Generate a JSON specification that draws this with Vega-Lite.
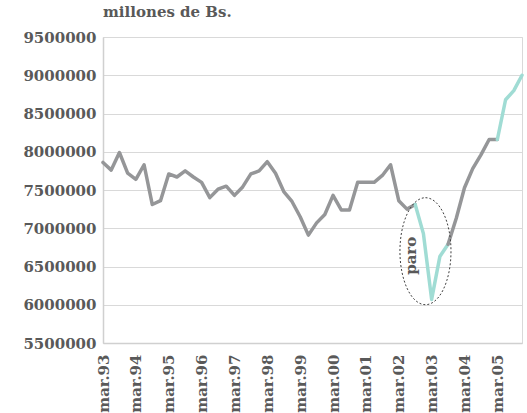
{
  "$schema": "https://vega.github.io/schema/vega-lite/v6.json",
  "width": 419,
  "height": 306,
  "autosize": {"type": "none"},
  "padding": {"left": 103, "top": 37, "right": 5, "bottom": 70},
  "background": "white",
  "title": {"text": "millones de Bs.", "anchor": "start", "frame": "group", "offset": 10, "font": "DejaVu Serif", "fontSize": 15, "fontWeight": "bold", "color": "#595959"},
  "datasets": {
    "serie": [
      {"t": 0, "periodo": "mar.93", "valor": 7860000, "tramo": "A", "tipo": "normal"},
      {"t": 1, "periodo": "jun.93", "valor": 7760000, "tramo": "A", "tipo": "normal"},
      {"t": 2, "periodo": "sep.93", "valor": 7990000, "tramo": "A", "tipo": "normal"},
      {"t": 3, "periodo": "dic.93", "valor": 7720000, "tramo": "A", "tipo": "normal"},
      {"t": 4, "periodo": "mar.94", "valor": 7640000, "tramo": "A", "tipo": "normal"},
      {"t": 5, "periodo": "jun.94", "valor": 7830000, "tramo": "A", "tipo": "normal"},
      {"t": 6, "periodo": "sep.94", "valor": 7310000, "tramo": "A", "tipo": "normal"},
      {"t": 7, "periodo": "dic.94", "valor": 7360000, "tramo": "A", "tipo": "normal"},
      {"t": 8, "periodo": "mar.95", "valor": 7710000, "tramo": "A", "tipo": "normal"},
      {"t": 9, "periodo": "jun.95", "valor": 7670000, "tramo": "A", "tipo": "normal"},
      {"t": 10, "periodo": "sep.95", "valor": 7750000, "tramo": "A", "tipo": "normal"},
      {"t": 11, "periodo": "dic.95", "valor": 7670000, "tramo": "A", "tipo": "normal"},
      {"t": 12, "periodo": "mar.96", "valor": 7600000, "tramo": "A", "tipo": "normal"},
      {"t": 13, "periodo": "jun.96", "valor": 7400000, "tramo": "A", "tipo": "normal"},
      {"t": 14, "periodo": "sep.96", "valor": 7510000, "tramo": "A", "tipo": "normal"},
      {"t": 15, "periodo": "dic.96", "valor": 7550000, "tramo": "A", "tipo": "normal"},
      {"t": 16, "periodo": "mar.97", "valor": 7430000, "tramo": "A", "tipo": "normal"},
      {"t": 17, "periodo": "jun.97", "valor": 7540000, "tramo": "A", "tipo": "normal"},
      {"t": 18, "periodo": "sep.97", "valor": 7710000, "tramo": "A", "tipo": "normal"},
      {"t": 19, "periodo": "dic.97", "valor": 7750000, "tramo": "A", "tipo": "normal"},
      {"t": 20, "periodo": "mar.98", "valor": 7870000, "tramo": "A", "tipo": "normal"},
      {"t": 21, "periodo": "jun.98", "valor": 7720000, "tramo": "A", "tipo": "normal"},
      {"t": 22, "periodo": "sep.98", "valor": 7480000, "tramo": "A", "tipo": "normal"},
      {"t": 23, "periodo": "dic.98", "valor": 7350000, "tramo": "A", "tipo": "normal"},
      {"t": 24, "periodo": "mar.99", "valor": 7150000, "tramo": "A", "tipo": "normal"},
      {"t": 25, "periodo": "jun.99", "valor": 6910000, "tramo": "A", "tipo": "normal"},
      {"t": 26, "periodo": "sep.99", "valor": 7070000, "tramo": "A", "tipo": "normal"},
      {"t": 27, "periodo": "dic.99", "valor": 7180000, "tramo": "A", "tipo": "normal"},
      {"t": 28, "periodo": "mar.00", "valor": 7430000, "tramo": "A", "tipo": "normal"},
      {"t": 29, "periodo": "jun.00", "valor": 7240000, "tramo": "A", "tipo": "normal"},
      {"t": 30, "periodo": "sep.00", "valor": 7240000, "tramo": "A", "tipo": "normal"},
      {"t": 31, "periodo": "dic.00", "valor": 7600000, "tramo": "A", "tipo": "normal"},
      {"t": 32, "periodo": "mar.01", "valor": 7600000, "tramo": "A", "tipo": "normal"},
      {"t": 33, "periodo": "jun.01", "valor": 7600000, "tramo": "A", "tipo": "normal"},
      {"t": 34, "periodo": "sep.01", "valor": 7690000, "tramo": "A", "tipo": "normal"},
      {"t": 35, "periodo": "dic.01", "valor": 7830000, "tramo": "A", "tipo": "normal"},
      {"t": 36, "periodo": "mar.02", "valor": 7360000, "tramo": "A", "tipo": "normal"},
      {"t": 37, "periodo": "jun.02", "valor": 7250000, "tramo": "A", "tipo": "normal"},
      {"t": 38, "periodo": "sep.02", "valor": 7310000, "tramo": "A", "tipo": "normal"},
      {"t": 38, "periodo": "sep.02", "valor": 7310000, "tramo": "B", "tipo": "destacado"},
      {"t": 39, "periodo": "dic.02", "valor": 6930000, "tramo": "B", "tipo": "destacado"},
      {"t": 40, "periodo": "mar.03", "valor": 6070000, "tramo": "B", "tipo": "destacado"},
      {"t": 41, "periodo": "jun.03", "valor": 6630000, "tramo": "B", "tipo": "destacado"},
      {"t": 42, "periodo": "sep.03", "valor": 6790000, "tramo": "B", "tipo": "destacado"},
      {"t": 42, "periodo": "sep.03", "valor": 6790000, "tramo": "C", "tipo": "normal"},
      {"t": 43, "periodo": "dic.03", "valor": 7130000, "tramo": "C", "tipo": "normal"},
      {"t": 44, "periodo": "mar.04", "valor": 7530000, "tramo": "C", "tipo": "normal"},
      {"t": 45, "periodo": "jun.04", "valor": 7780000, "tramo": "C", "tipo": "normal"},
      {"t": 46, "periodo": "sep.04", "valor": 7960000, "tramo": "C", "tipo": "normal"},
      {"t": 47, "periodo": "dic.04", "valor": 8160000, "tramo": "C", "tipo": "normal"},
      {"t": 48, "periodo": "mar.05", "valor": 8160000, "tramo": "C", "tipo": "normal"},
      {"t": 48, "periodo": "mar.05", "valor": 8160000, "tramo": "D", "tipo": "destacado"},
      {"t": 49, "periodo": "jun.05", "valor": 8680000, "tramo": "D", "tipo": "destacado"},
      {"t": 50, "periodo": "sep.05", "valor": 8800000, "tramo": "D", "tipo": "destacado"},
      {"t": 51, "periodo": "dic.05", "valor": 9000000, "tramo": "D", "tipo": "destacado"}
    ],
    "elipse": [
      {"t": 39.25, "valor": 6700000}
    ],
    "etiqueta": [
      {"t": 37.5, "valor": 6640000, "texto": "paro"}
    ]
  },
  "encoding": {
    "x": {"field": "t", "type": "quantitative", "scale": {"domain": [0, 51], "nice": false, "zero": false},
          "axis": {"values": [0, 4, 8, 12, 16, 20, 24, 28, 32, 36, 40, 44, 48],
                   "labelExpr": "datum.value/4 + 93 < 100 ? 'mar.' + (datum.value/4 + 93) : 'mar.0' + (datum.value/4 - 7)",
                   "labelOverlap": false, "labelAngle": 270, "labelPadding": 11, "labelFontSize": 15, "labelBound": false, "grid": false,
                   "title": null}},
    "y": {"field": "valor", "type": "quantitative", "scale": {"domain": [5500000, 9500000], "nice": false, "zero": false},
          "axis": {"values": [5500000, 6000000, 6500000, 7000000, 7500000, 8000000, 8500000, 9000000, 9500000], "format": "d",
                   "labelOverlap": false, "grid": true, "labelPadding": 7, "title": null}}
  },
  "layer": [
    {
      "data": {"name": "serie"},
      "mark": {"type": "line", "strokeWidth": 3.5, "strokeJoin": "round", "strokeCap": "round"},
      "encoding": {
        "detail": {"field": "tramo"},
        "color": {"field": "tipo", "type": "nominal", "scale": {"domain": ["normal", "destacado"], "range": ["#959698", "#a0dcd4"]}, "legend": null}
      }
    },
    {
      "data": {"name": "elipse"},
      "mark": {"type": "point", "shape": "M 0 -1 A 0.477 1 0 1 1 0 1 A 0.477 1 0 1 1 0 -1 Z", "size": 11449, "filled": false, "stroke": "#404040", "strokeWidth": 1, "strokeDash": [2, 2], "opacity": 1}
    },
    {
      "data": {"name": "etiqueta"},
      "mark": {"type": "text", "angle": 270, "align": "center", "baseline": "middle", "font": "DejaVu Serif", "fontSize": 15, "fontWeight": "bold", "color": "#595959"},
      "encoding": {
        "text": {"field": "texto"}
      }
    }
  ],
  "config": {
    "view": {"stroke": "#d9d9d9", "strokeWidth": 1},
    "axis": {"labelFont": "DejaVu Serif", "labelFontSize": 15, "labelFontWeight": "bold", "labelColor": "#595959", "ticks": false, "domainColor": "#d0d0d0", "domainWidth": 1.5, "gridColor": "#d9d9d9", "gridWidth": 1.2}
  }
}
